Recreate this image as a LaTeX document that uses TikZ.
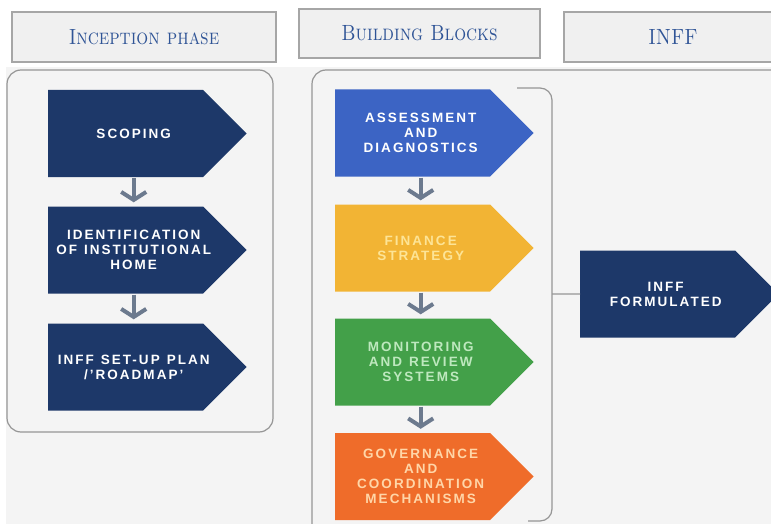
\documentclass[tikz,border=0pt]{standalone}
\usepackage{fontspec}
\usepackage{graphicx}
\usepackage{tikz}
\usetikzlibrary{arrows.meta,shapes.symbols,positioning}

\newfontfamily\stepfont[LetterSpace=15]{Liberation Sans}
\newcommand{\hdrtext}[1]{\scalebox{0.85}[1]{\scshape #1}}

\definecolor{navy}{RGB}{29,56,105}
\definecolor{blockblue}{RGB}{60,100,196}
\definecolor{blockyellow}{RGB}{242,180,52}
\definecolor{blockgreen}{RGB}{67,160,73}
\definecolor{blockorange}{RGB}{239,108,42}
\definecolor{paleyellow}{RGB}{253,228,150}
\definecolor{palegreen}{RGB}{190,232,190}
\definecolor{paleorange}{RGB}{255,214,168}
\definecolor{headblue}{RGB}{47,84,150}
\definecolor{panelgray}{RGB}{244,244,244}
\definecolor{linegray}{RGB}{150,150,150}
\definecolor{flowgray}{RGB}{108,122,142}

\begin{document}
\begin{tikzpicture}
[x=1pt,y=-1pt,
head/.style={draw=black!35,line width=1.6pt,fill=black!6,text=headblue,font=\fontsize{22}{26}\selectfont},
stepbox/.style={signal,signal to=east,signal pointer angle=90,anchor=west,minimum height=87pt,inner xsep=0pt,inner ysep=0pt,text width=155pt,align=center,font=\stepfont\bfseries\fontsize{13.5}{15}\selectfont,execute at begin node={\leftskip=-4pt plus 1fil\rightskip=-20pt plus 1fil\parfillskip=0pt\spaceskip=7pt plus 1pt minus 0.5pt}},
flow/.style={draw=flowgray,line width=4pt,-{Straight Barb[length=8pt,width=25pt]},shorten <=1pt,shorten >=4pt},
panel/.style={draw=linegray,line width=1.2pt,rounded corners=14pt}]
\useasboundingbox (0,0) rectangle (771,524);

\fill[panelgray] (6,67) rectangle (771,524);
\draw[panel,fill=panelgray] (7,70) rectangle (273,432);
\draw[panel] (312,540) -- (312,70) -- (790,70);
\draw[draw=linegray,line width=1.2pt,rounded corners=12pt] (517,88) -- (552,88) -- (552,521) -- (528,521);

\node[head,minimum width=264pt,minimum height=50pt] (ip) at (144,37) {\hdrtext{Inception phase}};
\node[head,minimum width=241pt,minimum height=49pt] (bb) at (419.5,33.5) {\hdrtext{Building Blocks}};
\node[head,minimum width=218pt,minimum height=50pt] (inff) at (673,37) {\hdrtext{INFF}};

\node[stepbox,fill=navy,text=white] (scop) at (48,133.5) {SCOPING};
\node[stepbox,fill=navy,text=white] (home) at (48,250) {IDENTIFICATION\\OF INSTITUTIONAL\\HOME};
\node[stepbox,fill=navy,text=white] (road) at (48,367) {INFF SET-UP PLAN\\/’ROADMAP’};

\draw[flow] ([xshift=8pt]scop.south) -- ([xshift=8pt]home.north);
\draw[flow] ([xshift=8pt]home.south) -- ([xshift=8pt]road.north);

\node[stepbox,fill=blockblue,text=white] (asse) at (335,133) {ASSESSMENT\\AND\\DIAGNOSTICS};
\node[stepbox,fill=blockyellow,text=paleyellow] (fina) at (335,248) {FINANCE\\STRATEGY};
\node[stepbox,fill=blockgreen,text=palegreen] (moni) at (335,362) {MONITORING\\AND REVIEW\\SYSTEMS};
\node[stepbox,fill=blockorange,text=paleorange] (gove) at (335,476.5) {GOVERNANCE\\AND\\COORDINATION\\MECHANISMS};

\draw[flow] ([xshift=8pt]asse.south) -- ([xshift=8pt]fina.north);
\draw[flow] ([xshift=8pt]fina.south) -- ([xshift=8pt]moni.north);
\draw[flow] ([xshift=8pt]moni.south) -- ([xshift=8pt]gove.north);

\node[stepbox,fill=navy,text=white] (form) at (580,294) {INFF\\FORMULATED};
\coordinate (brk) at (552,294);
\draw[draw=linegray,line width=1.2pt] (brk) -- (form);
\end{tikzpicture}
\end{document}
